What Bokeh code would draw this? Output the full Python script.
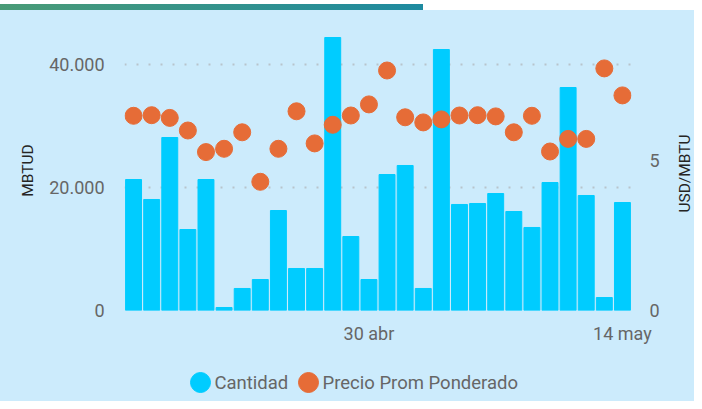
import math
from bokeh.plotting import figure
from bokeh.models import Range1d, LinearAxis, FixedTicker, Div
from bokeh.layouts import column, row
from bokeh.core.properties import value
from bokeh.embed import file_html
from bokeh.resources import INLINE

dates = ["17 abr", "18 abr", "19 abr", "20 abr", "21 abr", "22 abr", "23 abr",
         "24 abr", "25 abr", "26 abr", "27 abr", "28 abr", "29 abr", "30 abr",
         "1 may", "2 may", "3 may", "4 may", "5 may", "6 may", "7 may",
         "8 may", "9 may", "10 may", "11 may", "12 may", "13 may", "14 may"]
cantidad = [21300, 18050, 28130, 13170, 21300, 490, 3580, 5040, 16260, 6830,
            6830, 44390, 12030, 5040, 22110, 23580, 3580, 42440, 17240, 17400,
            19020, 16100, 13500, 20810, 36260, 18700, 2110, 17560]
precio = [6.49, 6.51, 6.42, 6.00, 5.28, 5.39, 5.94, 4.29, 5.39, 6.64,
          5.57, 6.19, 6.50, 6.87, 8.00, 6.44, 6.27, 6.37, 6.50, 6.51,
          6.47, 5.94, 6.49, 5.30, 5.72, 5.72, 8.07, 7.17]
x_tick_labels = ["30 abr", "14 may"]
left_ticks = [0, 20000, 40000]
left_tick_labels = ["0", "20.000", "40.000"]
right_ticks = [0, 5]
right_tick_labels = ["0", "5"]
series_names = ["Cantidad", "Precio Prom Ponderado"]
left_title = "MBTUD"
right_title = "USD/MBTU"

BG = "#CCEBFC"
BAR = "#00CCFF"
DOT = "#E66C37"
FONT = "Roboto"
GRAY = "#666666"
TITLE = "#252423"
W = 694
RW = 30          # strip that carries the right axis title
MAIN_H = 345
TOP, BOTTOM, LEFT = 20, 45, 124

xs = list(range(len(dates)))

# ---------- main chart ----------
p = figure(width=W - RW, height=MAIN_H, output_backend="svg", toolbar_location=None,
           x_range=Range1d(-0.5, len(dates) - 0.5), y_range=Range1d(0, 45530),
           min_border_left=LEFT, min_border_right=33, min_border_top=TOP,
           min_border_bottom=BOTTOM, styles={"background-color": BG})
p.extra_y_ranges = {"precio": Range1d(0, 9.333)}
p.background_fill_color = BG
p.border_fill_color = BG
p.outline_line_color = None

p.xgrid.grid_line_color = None
p.ygrid.ticker = FixedTicker(ticks=left_ticks)
p.ygrid.grid_line_color = "#B8C4CC"
p.ygrid.grid_line_width = 2
p.ygrid.grid_line_dash = "2 10"

bars = p.vbar(x=xs, top=cantidad, width=0.88, color=BAR)
dots = p.scatter(x=xs, y=precio, y_range_name="precio", size=17, color=DOT)

xa = p.xaxis[0]
xa.ticker = FixedTicker(ticks=[dates.index(d) for d in x_tick_labels])
xa.major_label_overrides = {dates.index(d): d for d in x_tick_labels}
ya = p.yaxis[0]
ya.ticker = FixedTicker(ticks=left_ticks)
ya.major_label_overrides = dict(zip(left_ticks, left_tick_labels))
ya.axis_label = left_title
ra = LinearAxis(y_range_name="precio", ticker=FixedTicker(ticks=right_ticks))
ra.major_label_overrides = dict(zip(right_ticks, right_tick_labels))
p.add_layout(ra, "right")

for ax in [xa, ya, ra]:
    ax.axis_line_color = None
    ax.major_tick_line_color = None
    ax.minor_tick_line_color = None
    ax.major_tick_out = 0
    ax.major_tick_in = 0
    ax.minor_tick_out = 0
    ax.minor_tick_in = 0
    ax.major_label_text_font = FONT
    ax.major_label_text_font_size = "18px"
    ax.major_label_text_color = GRAY
    ax.axis_label_text_font = FONT
    ax.axis_label_text_font_size = "15.5px"
    ax.axis_label_text_font_style = "normal"
    ax.axis_label_text_color = TITLE
xa.major_label_standoff = 12
ya.major_label_standoff = 20
ya.axis_label_standoff = 9
ra.major_label_standoff = 18

# ---------- right axis title strip (reads bottom to top) ----------
rf = figure(width=RW, height=MAIN_H, output_backend="svg", toolbar_location=None,
            x_range=Range1d(0, RW), y_range=Range1d(0, MAIN_H - TOP - BOTTOM),
            min_border_left=0, min_border_right=0, min_border_top=TOP,
            min_border_bottom=BOTTOM, styles={"background-color": BG})
rf.axis.visible = False
rf.grid.visible = False
rf.background_fill_color = BG
rf.border_fill_color = BG
rf.outline_line_color = None
rf.text(x=[20], y=[137], text=[right_title], angle=math.pi / 2,
        text_align="center", text_baseline="middle", text_font=value(FONT),
        text_font_size="15.5px", text_color=TITLE)

# ---------- legend strip ----------
LH = 46
lf = figure(width=W, height=LH, output_backend="svg", toolbar_location=None,
            x_range=Range1d(LEFT, W - 63), y_range=Range1d(0, LH),
            min_border_left=LEFT, min_border_right=63, min_border_top=0,
            min_border_bottom=0, styles={"background-color": BG})
lf.axis.visible = False
lf.grid.visible = False
lf.background_fill_color = BG
lf.border_fill_color = BG
lf.outline_line_color = None
legend_marker_x = [200, 308]
legend_text_x = [214, 322]
lf.scatter(x=legend_marker_x, y=[19, 19], size=20, color=[BAR, DOT])
lf.text(x=legend_text_x, y=[19, 19], text=series_names, text_align="left",
        text_baseline="middle", text_font=value(FONT), text_font_size="18.5px",
        text_color=GRAY)

# ---------- header strip ----------
topbar = Div(text='<div style="width:423px;height:8px;'
                  'background:linear-gradient(to right,#4a9b76,#1e8aa0);"></div>',
             width=W, height=10, margin=0)

layout = column(topbar, row(p, rf, spacing=0), lf, spacing=0)
open("out.html", "w").write(file_html(layout, INLINE))
